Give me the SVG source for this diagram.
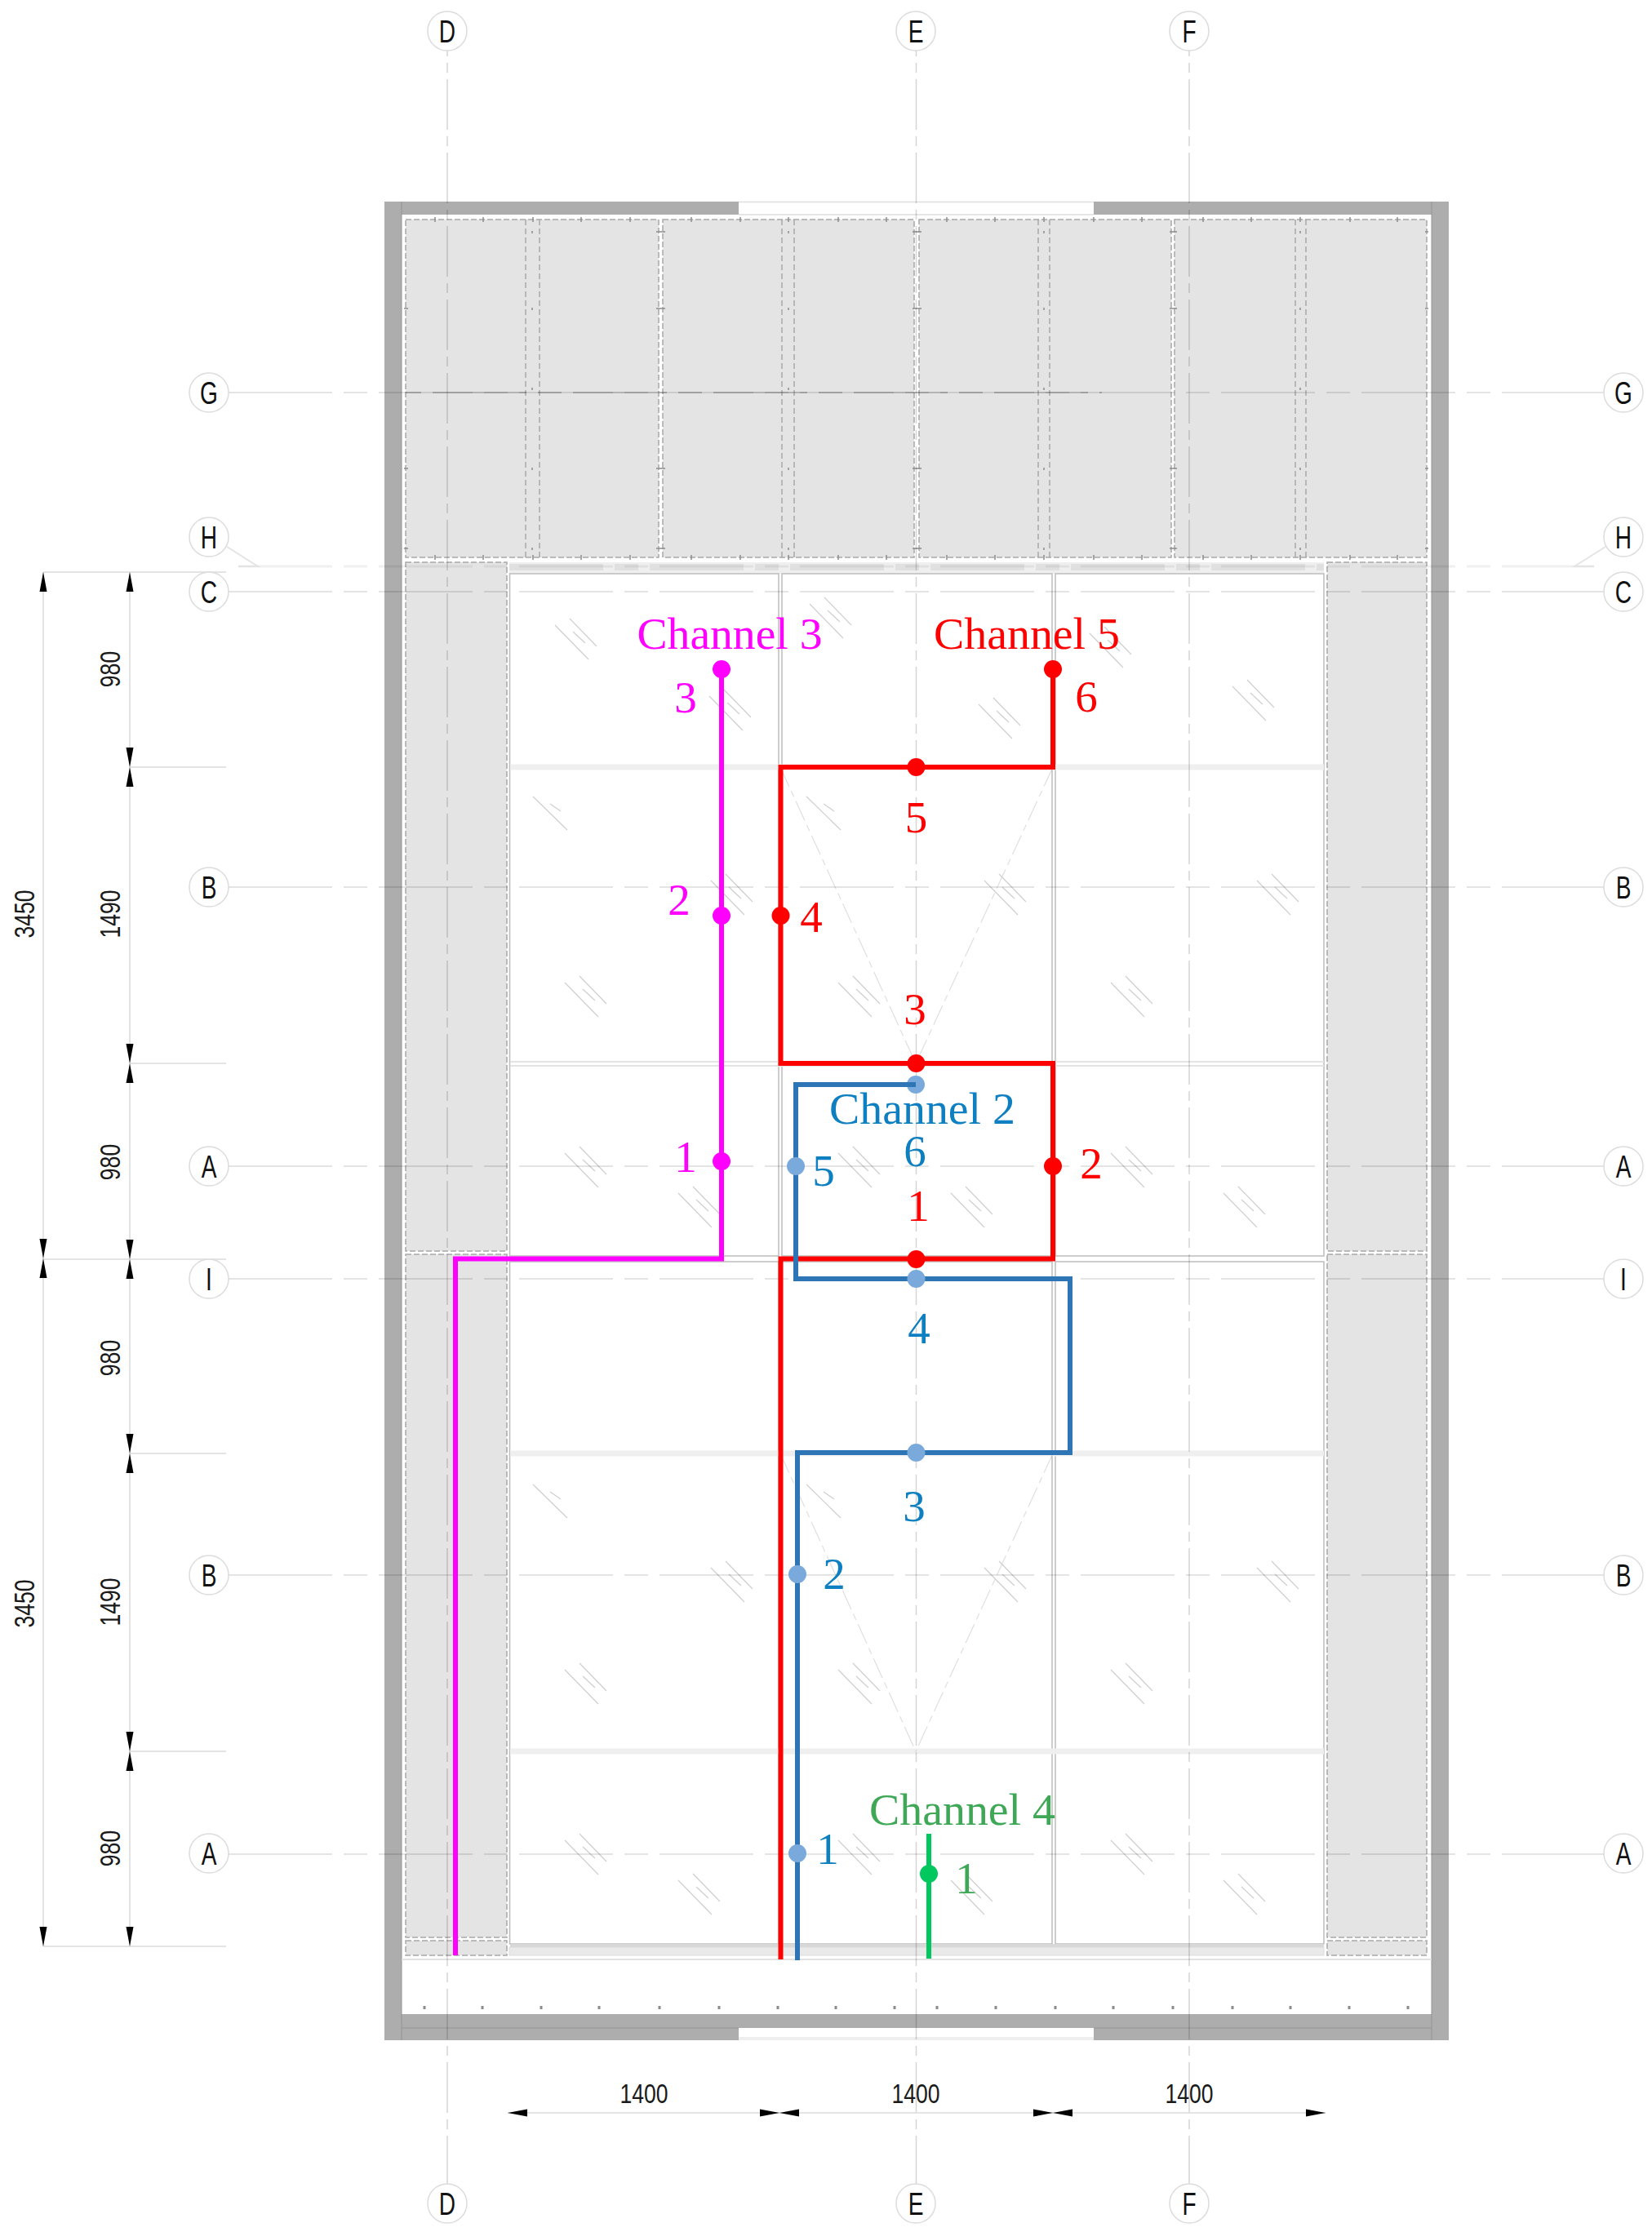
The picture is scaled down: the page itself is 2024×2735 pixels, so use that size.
<svg xmlns="http://www.w3.org/2000/svg" xmlns:xlink="http://www.w3.org/1999/xlink" width="2024" height="2735" viewBox="0 0 2024 2735">
<style>
text{font-family:"Liberation Sans",Arial,sans-serif}
.wall{fill:#adadad}
.seam{stroke:#949494;stroke-width:1;fill:none}
.panel{fill:#e4e4e4;stroke:#a8a8a8;stroke-width:1.5;stroke-dasharray:7 3}
.dashv{fill:none;stroke:#a8a8a8;stroke-width:1.5;stroke-dasharray:7 4}
.tick{fill:none;stroke:#8c8c8c;stroke-width:1.5}
.pane{fill:#fff;stroke:#bdbdbd;stroke-width:1.5}
.h{fill:none;stroke:#000;stroke-opacity:.14;stroke-width:1.5;stroke-dasharray:115 14 29 14}
.hd{fill:none;stroke:#000;stroke-opacity:.28;stroke-width:1.5;stroke-dasharray:115 14 29 14}
.ht{fill:none;stroke:#000;stroke-opacity:.06;stroke-width:7;stroke-dasharray:115 14 29 14}
.v{fill:none;stroke:#000;stroke-opacity:.17;stroke-width:1.5;stroke-dasharray:62 8 12 8;stroke-dashoffset:55}
.diag{fill:none;stroke:#000;stroke-opacity:.13;stroke-width:1.2;stroke-dasharray:26 6 8 6}
.hatch{fill:none;stroke:#cfcfcf;stroke-width:1.2}
.bar{stroke:#efefef;stroke-width:7;fill:none}
.dim{stroke:#dcdcdc;stroke-width:1.6;fill:none}
.circ{fill:#fff;stroke:#dcdcdc;stroke-width:1.5}
.gl{font-size:39px;text-anchor:middle;fill:#111}
.dl{font-size:35px;text-anchor:middle;fill:#1a1a1a}
.s{font-family:"Liberation Serif","Times New Roman",serif;font-size:55px;text-anchor:middle}
.c{fill:none;stroke-width:6}
.mg{fill:#ff00ff}.rd{fill:#ff0000}.bt{fill:#0e7fc0}.gt{fill:#3fa856}
.bn{fill:#7aa9dc}
</style>
<defs>
<path id="au" d="M0 0L4.5 24H-4.5Z" fill="#000"/>
<path id="ad" d="M0 0L4.5 -24H-4.5Z" fill="#000"/>
<path id="al" d="M0 0L24 -4.5V4.5Z" fill="#000"/>
<path id="ar" d="M0 0L-24 -4.5V4.5Z" fill="#000"/>
<path id="h1" class="hatch" d="M0 8L41 50M18 0L51 34M22 16L37 30"/>
<path id="h2" class="hatch" d="M0 0L42 41M21 9L34 18"/>
</defs>

<g id="building">
<rect class="wall" x="471" y="247" width="1304" height="2253"/>
<rect x="492" y="263" width="1262" height="2205" fill="#fff"/>
<rect x="905" y="247" width="435" height="16" fill="#fff"/>
<rect x="905" y="2485" width="435" height="15" fill="#fff"/>
<path d="M905 247.500H1340M905 263H1340" stroke="#dedede" stroke-width="1.500" fill="none"/>
<path d="M905 2498H1340" stroke="#eeeeee" stroke-width="4" fill="none"/>
<path class="seam" d="M492 247V2500M1754 247V2500M492 2485H905M1340 2485H1754"/>

<rect class="panel" x="497" y="269" width="310" height="414"/>
<rect class="panel" x="812" y="269" width="308" height="414"/>
<rect class="panel" x="1126" y="269" width="309" height="414"/>
<rect class="panel" x="1439" y="269" width="309" height="414"/>
<path class="dashv" d="M644 269V683M661 269V683M958 269V683M973 269V683M1272 269V683M1286 269V683M1587 269V683M1600 269V683"/>
<path class="tick" d="M533 266v6M533 680v6M592 266v6M592 680v6M653 266v6M653 680v6M712 266v6M712 680v6M772 266v6M772 680v6M847 266v6M847 680v6M907 266v6M907 680v6M966 266v6M966 680v6M1027 266v6M1027 680v6M1086 266v6M1086 680v6M1160 266v6M1160 680v6M1219 266v6M1219 680v6M1279 266v6M1279 680v6M1340 266v6M1340 680v6M1399 266v6M1399 680v6M1474 266v6M1474 680v6M1533 266v6M1533 680v6M1593 266v6M1593 680v6M1654 266v6M1654 680v6M1712 266v6M1712 680v6"/>
<path class="tick" d="M804 284h11M804 378h11M804 574h11M804 672h11M1118 284h11M1118 378h11M1118 574h11M1118 672h11M1433 284h9M1433 378h9M1433 574h9M1433 672h9M495 378h5M495 574h5M495 672h5M1746 284h4M1746 378h4M1746 574h4M1746 672h4"/>
<path class="tick" stroke-width="3" d="M652 283v3M652 377v3M652 475v3M652 573v3M652 671v3M966 283v3M966 377v3M966 475v3M966 573v3M966 671v3M1279 283v3M1279 377v3M1279 475v3M1279 573v3M1279 671v3M1593 283v3M1593 377v3M1593 475v3M1593 573v3M1593 671v3"/>

<rect class="panel" x="497" y="689" width="124" height="844"/>
<rect class="panel" x="497" y="1537" width="124" height="837"/>
<rect class="panel" x="497" y="2378" width="124" height="18"/>
<rect class="panel" x="1626" y="689" width="122" height="844"/>
<rect class="panel" x="1626" y="1537" width="122" height="837"/>
<rect class="panel" x="1626" y="2378" width="122" height="18"/>
<rect x="624" y="689" width="998" height="14" fill="#efefef"/>
<rect x="624" y="2386" width="998" height="10" fill="#e9e9e9" stroke="#dcdcdc"/>
<path d="M492 2401H1754" stroke="#e2e2e2" stroke-width="2" fill="none"/>

<rect class="pane" x="624.500" y="703" width="329.500" height="836"/>
<rect class="pane" x="958" y="703" width="331" height="836"/>
<rect class="pane" x="1293" y="703" width="329" height="836"/>
<rect class="pane" x="624.500" y="1546" width="329.500" height="836"/>
<rect class="pane" x="958" y="1546" width="331" height="836"/>
<rect class="pane" x="1293" y="1546" width="329" height="836"/>
<path class="bar" d="M625 940H1622M625 1781H1622M625 2146H1622"/>
<path d="M625 1301H1622M625 1306H1622" stroke="#e4e4e4" stroke-width="2" fill="none"/>
<path d="M625 2384H1622" stroke="#d8d8d8" stroke-width="4" fill="none"/>
<path class="diag" d="M956 940L1122 1303M1290 940L1122 1303M956 1781L1122 2146M1290 1781L1122 2146"/>

<g id="ticks">
<path stroke="#8c8c8c" stroke-width="3" fill="none" d="M520 2458v4M591 2458v4M663 2458v4M734 2458v4M808 2458v4M881 2458v4M953 2458v4M1024 2458v4M1096 2458v4M1148 2458v4M1220 2458v4M1293 2458v4M1364 2458v4M1437 2458v4M1510 2458v4M1581 2458v4M1653 2458v4M1725 2458v4"/>
</g>
</g>

<g id="glazing-marks">
<use href="#h1" x="680" y="758"/><use href="#h1" x="992" y="732"/><use href="#h1" x="869" y="845"/><use href="#h1" x="1335" y="768"/><use href="#h1" x="1199" y="855"/><use href="#h1" x="1510" y="833"/>
<use href="#h2" x="653" y="976"/><use href="#h2" x="988" y="976"/>
<use href="#h1" x="871" y="1071"/><use href="#h1" x="1206" y="1071"/><use href="#h1" x="1540" y="1071"/>
<use href="#h1" x="692" y="1196"/><use href="#h1" x="1027" y="1196"/><use href="#h1" x="1361" y="1196"/>
<use href="#h1" x="692" y="1405"/><use href="#h1" x="1027" y="1405"/><use href="#h1" x="1361" y="1405"/>
<use href="#h1" x="831" y="1454"/><use href="#h1" x="1165" y="1454"/><use href="#h1" x="1499" y="1454"/>
<use href="#h2" x="653" y="1819"/><use href="#h2" x="988" y="1819"/>
<use href="#h1" x="871" y="1913"/><use href="#h1" x="1206" y="1913"/><use href="#h1" x="1540" y="1913"/>
<use href="#h1" x="692" y="2038"/><use href="#h1" x="1027" y="2038"/><use href="#h1" x="1361" y="2038"/>
<use href="#h1" x="692" y="2247"/><use href="#h1" x="1027" y="2247"/><use href="#h1" x="1361" y="2247"/>
<use href="#h1" x="831" y="2296"/><use href="#h1" x="1165" y="2296"/><use href="#h1" x="1499" y="2296"/>
</g>

<g id="grid-lines">
<path class="v" d="M548 62V2677M1122.500 62V2677M1457 62V2677"/>
<path class="h" d="M292 481H1953"/>
<path class="hd" style="stroke-dashoffset:-33" d="M497 481H1350"/>
<path class="h" d="M292 725H1953M292 1087H1953M292 1429H1953M292 1567H1953M292 1930H1953M292 2272H1953"/>
<path class="ht" style="stroke-width:3" d="M292 694H1953"/>
<path class="ht" style="stroke-width:8" d="M624 695H1622"/>
<path d="M280 481H292M280 725H292M280 1087H292M280 1429H292M280 1567H292M280 1930H292M280 2272H292M1953 481H1965M1953 725H1965M1953 1087H1965M1953 1429H1965M1953 1567H1965M1953 1930H1965M1953 2272H1965" stroke="#000" stroke-opacity=".14" stroke-width="1.500" fill="none"/>
<path d="M278 670L316 694H292M1967 670L1929 694H1953" stroke="#e4e4e4" stroke-width="2" fill="none"/>
</g>

<g id="dimensions">
<path class="dim" d="M53 701V2385M159 701V2385M53 701H277M53 1543H277M53 2385H277M159 940H277M159 1303H277M159 1781H277M159 2146H277M622 2589H1624"/>
<use href="#au" x="53" y="701"/><use href="#ad" x="53" y="1542"/><use href="#au" x="53" y="1542"/><use href="#ad" x="53" y="2385"/>
<use href="#au" x="159" y="701"/><use href="#ad" x="159" y="940"/><use href="#au" x="159" y="940"/><use href="#ad" x="159" y="1303"/><use href="#au" x="159" y="1303"/><use href="#ad" x="159" y="1543"/><use href="#au" x="159" y="1543"/><use href="#ad" x="159" y="1781"/><use href="#au" x="159" y="1781"/><use href="#ad" x="159" y="2146"/><use href="#au" x="159" y="2146"/><use href="#ad" x="159" y="2385"/>
<use href="#al" x="622" y="2589"/><use href="#ar" x="955" y="2589"/><use href="#al" x="955" y="2589"/><use href="#ar" x="1290" y="2589"/><use href="#al" x="1290" y="2589"/><use href="#ar" x="1624" y="2589"/>
<text class="dl" transform="translate(147,820) rotate(-90) scale(.76,1)">980</text>
<text class="dl" transform="translate(147,1120) rotate(-90) scale(.76,1)">1490</text>
<text class="dl" transform="translate(147,1424) rotate(-90) scale(.76,1)">980</text>
<text class="dl" transform="translate(147,1664) rotate(-90) scale(.76,1)">980</text>
<text class="dl" transform="translate(147,1963) rotate(-90) scale(.76,1)">1490</text>
<text class="dl" transform="translate(147,2265) rotate(-90) scale(.76,1)">980</text>
<text class="dl" transform="translate(42,1120) rotate(-90) scale(.76,1)">3450</text>
<text class="dl" transform="translate(42,1965) rotate(-90) scale(.76,1)">3450</text>
<text class="dl" style="font-size:34px" transform="translate(789,2577) scale(.78,1)">1400</text>
<text class="dl" style="font-size:34px" transform="translate(1122,2577) scale(.78,1)">1400</text>
<text class="dl" style="font-size:34px" transform="translate(1457,2577) scale(.78,1)">1400</text>
</g>

<g id="bubble-D-top" transform="translate(548,38)"><circle class="circ" r="24"/><text class="gl" transform="scale(.72,1)" y="14">D</text></g>
<g id="bubble-E-top" transform="translate(1122,38)"><circle class="circ" r="24"/><text class="gl" transform="scale(.72,1)" y="14">E</text></g>
<g id="bubble-F-top" transform="translate(1457,38)"><circle class="circ" r="24"/><text class="gl" transform="scale(.72,1)" y="14">F</text></g>
<g id="bubble-D-bottom" transform="translate(548,2700)"><circle class="circ" r="24"/><text class="gl" transform="scale(.72,1)" y="14">D</text></g>
<g id="bubble-E-bottom" transform="translate(1122,2700)"><circle class="circ" r="24"/><text class="gl" transform="scale(.72,1)" y="14">E</text></g>
<g id="bubble-F-bottom" transform="translate(1457,2700)"><circle class="circ" r="24"/><text class="gl" transform="scale(.72,1)" y="14">F</text></g>
<g id="bubble-G-left" transform="translate(256,481)"><circle class="circ" r="24"/><text class="gl" transform="scale(.72,1)" y="14">G</text></g>
<g id="bubble-H-left" transform="translate(256,658)"><circle class="circ" r="24"/><text class="gl" transform="scale(.72,1)" y="14">H</text></g>
<g id="bubble-C-left" transform="translate(256,725)"><circle class="circ" r="24"/><text class="gl" transform="scale(.72,1)" y="14">C</text></g>
<g id="bubble-B1-left" transform="translate(256,1087)"><circle class="circ" r="24"/><text class="gl" transform="scale(.72,1)" y="14">B</text></g>
<g id="bubble-A1-left" transform="translate(256,1429)"><circle class="circ" r="24"/><text class="gl" transform="scale(.72,1)" y="14">A</text></g>
<g id="bubble-I-left" transform="translate(256,1567)"><circle class="circ" r="24"/><text class="gl" transform="scale(.72,1)" y="14">I</text></g>
<g id="bubble-B2-left" transform="translate(256,1930)"><circle class="circ" r="24"/><text class="gl" transform="scale(.72,1)" y="14">B</text></g>
<g id="bubble-A2-left" transform="translate(256,2271)"><circle class="circ" r="24"/><text class="gl" transform="scale(.72,1)" y="14">A</text></g>
<g id="bubble-G-right" transform="translate(1989,481)"><circle class="circ" r="24"/><text class="gl" transform="scale(.72,1)" y="14">G</text></g>
<g id="bubble-H-right" transform="translate(1989,658)"><circle class="circ" r="24"/><text class="gl" transform="scale(.72,1)" y="14">H</text></g>
<g id="bubble-C-right" transform="translate(1989,725)"><circle class="circ" r="24"/><text class="gl" transform="scale(.72,1)" y="14">C</text></g>
<g id="bubble-B1-right" transform="translate(1989,1087)"><circle class="circ" r="24"/><text class="gl" transform="scale(.72,1)" y="14">B</text></g>
<g id="bubble-A1-right" transform="translate(1989,1429)"><circle class="circ" r="24"/><text class="gl" transform="scale(.72,1)" y="14">A</text></g>
<g id="bubble-I-right" transform="translate(1989,1567)"><circle class="circ" r="24"/><text class="gl" transform="scale(.72,1)" y="14">I</text></g>
<g id="bubble-B2-right" transform="translate(1989,1930)"><circle class="circ" r="24"/><text class="gl" transform="scale(.72,1)" y="14">B</text></g>
<g id="bubble-A2-right" transform="translate(1989,2271)"><circle class="circ" r="24"/><text class="gl" transform="scale(.72,1)" y="14">A</text></g>

<g id="ch2-node-6"><circle class="bn" cx="1122" cy="1329" r="11"/></g>

<g id="connectors">
<path class="c" stroke="#ff00ff" d="M558 2396V1542.500H884V820"/>
<path class="c" stroke="#ff0000" d="M1290 820V940H956.500V1303H1290V1542.500H956.500V2401"/>
<path class="c" stroke="#2e75b6" d="M1122 1329H975V1567H1311V1780H977V2402"/>
<path class="c" stroke="#00c85f" d="M1138 2247V2400"/>
</g>

<g id="ch3-node-1"><circle class="mg" cx="884" cy="1423" r="11"/><text class="s mg" x="840" y="1436">1</text></g>
<g id="ch3-node-2"><circle class="mg" cx="884" cy="1122" r="11"/><text class="s mg" x="832" y="1121">2</text></g>
<g id="ch3-node-3"><circle class="mg" cx="884" cy="820" r="11"/><text class="s mg" x="840" y="873">3</text></g>
<g id="ch3-label"><text class="s mg" x="894" y="795" textLength="227" lengthAdjust="spacingAndGlyphs">Channel 3</text></g>

<g id="ch5-node-1"><circle class="rd" cx="1122.500" cy="1543" r="11"/><text class="s rd" x="1125" y="1496">1</text></g>
<g id="ch5-node-2"><circle class="rd" cx="1290" cy="1429" r="11"/><text class="s rd" x="1337" y="1444">2</text></g>
<g id="ch5-node-3"><circle class="rd" cx="1122.500" cy="1303" r="11"/><text class="s rd" x="1121" y="1255">3</text></g>
<g id="ch5-node-4"><circle class="rd" cx="956.500" cy="1122" r="11"/><text class="s rd" x="994" y="1142">4</text></g>
<g id="ch5-node-5"><circle class="rd" cx="1122.500" cy="940" r="11"/><text class="s rd" x="1122.500" y="1020">5</text></g>
<g id="ch5-node-6"><circle class="rd" cx="1290" cy="820" r="11"/><text class="s rd" x="1331" y="872">6</text></g>
<g id="ch5-label"><text class="s rd" x="1258" y="795" textLength="228" lengthAdjust="spacingAndGlyphs">Channel 5</text></g>

<g id="ch2-node-1"><circle class="bn" cx="977" cy="2271" r="11"/><text class="s bt" x="1014" y="2284">1</text></g>
<g id="ch2-node-2"><circle class="bn" cx="977" cy="1929" r="11"/><text class="s bt" x="1022" y="1947">2</text></g>
<g id="ch2-node-3"><circle class="bn" cx="1122.500" cy="1780" r="11"/><text class="s bt" x="1120" y="1864">3</text></g>
<g id="ch2-node-4"><circle class="bn" cx="1122.500" cy="1567" r="11"/><text class="s bt" x="1126" y="1646">4</text></g>
<g id="ch2-node-5"><circle class="bn" cx="975" cy="1429" r="11"/><text class="s bt" x="1009" y="1453">5</text></g>
<g id="ch2-label-6"><text class="s bt" x="1121" y="1429">6</text></g>
<g id="ch2-label"><text class="s bt" x="1130" y="1377" textLength="228" lengthAdjust="spacingAndGlyphs">Channel 2</text></g>

<g id="ch4-node-1"><circle cx="1138" cy="2296" r="11" fill="#00c85f"/><text class="s gt" x="1184" y="2320">1</text></g>
<g id="ch4-label"><text class="s gt" x="1179" y="2236" textLength="228" lengthAdjust="spacingAndGlyphs">Channel 4</text></g>
</svg>
